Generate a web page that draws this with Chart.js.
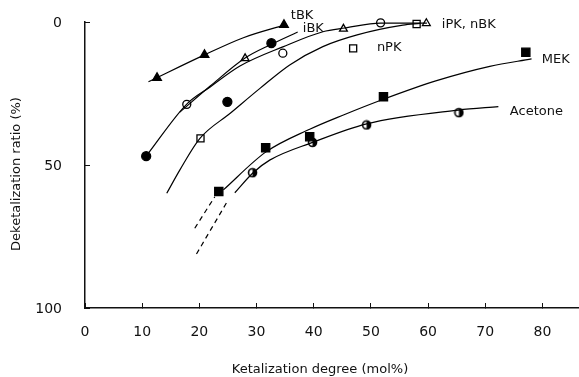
<!DOCTYPE html>
<html>
<head>
<meta charset="utf-8">
<script src="https://cdn.jsdelivr.net/npm/chart.js@4/dist/chart.umd.min.js"></script>
<style>
  body { margin: 0; background: #fff; }
</style>
</head>
<body>
<canvas id="ketal-chart" width="579" height="377"></canvas>
<script>
// measured points: x = ketalization degree (mol%), y = deketalization ratio (%)
const tbkX = [12.6, 20.9, 34.8];
const tbkY = [19.5, 11.5, 1.0];
const ibkX = [10.7, 24.9, 32.6];
const ibkY = [46.9, 27.9, 7.4];
const ipkX = [17.8, 34.6, 51.7];
const ipkY = [28.8, 10.9, 0.3];
const nbkX = [28.0, 45.2, 59.7];
const nbkY = [12.7, 2.4, 0.45];
const npkX = [20.2, 46.9, 58.0];
const npkY = [40.7, 9.2, 0.7];
const mekX = [23.4, 31.6, 39.3, 52.2, 77.1];
const mekY = [59.3, 44.0, 40.1, 26.1, 10.6];
const aceX = [29.3, 39.8, 49.25, 65.4];
const aceY = [52.7, 42.1, 36.0, 31.7];

// hand drawn curves
const tbkCurveX = [11.1, 20.9, 27.7, 35.0];
const tbkCurveY = [20.9, 11.5, 5.5, 1.0];
const ibkCurveX = [16.6, 21.9, 28.0, 32.7, 37.2];
const ibkCurveY = [31.5, 22.4, 12.6, 7.7, 3.5];
const ipkCurveX = [10.7, 17.8, 21.9, 27.1, 34.6, 41.6, 45.5, 51.7, 59.8];
const ipkCurveY = [46.9, 28.7, 22.7, 15.4, 8.7, 3.4, 2.1, 0.4, 0.4];
const npkCurveX = [14.3, 16.6, 20.1, 25.4, 30.6, 35.8, 41.6, 47.6, 55.6, 58.6];
const npkCurveY = [59.9, 51.7, 40.7, 31.9, 23.2, 15.0, 8.6, 4.5, 1.1, 0.5];
const mekCurveX = [24.2, 31.6, 39.3, 45.2, 52.2, 61.5, 70.8, 78.1];
const mekCurveY = [58.7, 45.5, 37.5, 32.5, 27.0, 20.5, 15.5, 12.9];
const mekDashX = [19.2, 22.7];
const mekDashY = [72.1, 61.1];
const aceCurveX = [26.2, 29.4, 32.3, 39.8, 49.25, 65.3, 72.3];
const aceCurveY = [59.7, 52.7, 48.3, 42.1, 35.6, 30.8, 29.6];
const aceDashX = [19.5, 25.05];
const aceDashY = [81.1, 62.2];

const xTicks = [0, 10, 20, 30, 40, 50, 60, 70, 80];
const yTicks = [0, 50, 100];

const curveLabels = [
  { text: "tBK", x: 36.0, y: -2.1 },
  { text: "iBK", x: 38.1, y: 2.45 },
  { text: "nPK", x: 51.05, y: 9.1 },
  { text: "iPK, nBK", x: 62.4, y: 1.05 },
  { text: "MEK", x: 79.9, y: 13.3 },
  { text: "Acetone", x: 74.3, y: 31.5 },
];

function pts(xs, ys) {
  return xs.map((x, i) => ({ x: x, y: ys[i] }));
}

// half filled circle marker for acetone
const halfDot = document.createElement("canvas");
halfDot.width = 11;
halfDot.height = 11;
(function () {
  const c = halfDot.getContext("2d");
  c.fillStyle = "#fff";
  c.beginPath();
  c.arc(5.5, 5.5, 4, 0, Math.PI * 2);
  c.fill();
  c.fillStyle = "#000";
  c.beginPath();
  c.arc(5.5, 5.5, 4, -Math.PI / 2, Math.PI / 2);
  c.fill();
  c.strokeStyle = "#000";
  c.lineWidth = 1.6;
  c.beginPath();
  c.arc(5.5, 5.5, 4, 0, Math.PI * 2);
  c.stroke();
})();

function curve(xs, ys, dashed) {
  return {
    data: pts(xs, ys),
    showLine: true,
    borderColor: "#000",
    borderWidth: 1.2,
    borderDash: dashed ? [5, 4] : [],
    pointRadius: 0,
    cubicInterpolationMode: "monotone",
    clip: 10,
  };
}

function marks(xs, ys, style, filled, radius) {
  return {
    data: pts(xs, ys),
    showLine: false,
    pointStyle: style,
    pointRadius: radius,
    backgroundColor: filled ? "#000" : "#fff",
    borderColor: "#000",
    borderWidth: 1.3,
    clip: 10,
  };
}

const textPlugin = {
  id: "textLabels",
  afterDraw(chart) {
    const { ctx, scales } = chart;
    ctx.save();
    ctx.fillStyle = "#111";
    ctx.textBaseline = "middle";
    ctx.font = '13px "DejaVu Sans"';
    curveLabels.forEach((l) => {
      ctx.fillText(l.text, scales.x.getPixelForValue(l.x), scales.y.getPixelForValue(l.y));
    });
    // y tick labels
    ctx.font = '14px "DejaVu Sans"';
    ctx.textAlign = "right";
    yTicks.forEach((v) => {
      ctx.fillText(String(v), 62, scales.y.getPixelForValue(v) + 1);
    });
    ctx.font = '13px "DejaVu Sans"';
    ctx.textAlign = "center";
    ctx.fillText("Ketalization degree (mol%)", 320, 370);
    ctx.translate(17, 174);
    ctx.rotate(-Math.PI / 2);
    ctx.fillText("Deketalization ratio (%)", 0, 0);
    ctx.restore();
  },
};

const config = {
  type: "scatter",
  data: {
    datasets: [
      curve(tbkCurveX, tbkCurveY),
      curve(ibkCurveX, ibkCurveY),
      curve(ipkCurveX, ipkCurveY),
      curve(npkCurveX, npkCurveY),
      curve(mekCurveX, mekCurveY),
      curve(mekDashX, mekDashY, true),
      curve(aceCurveX, aceCurveY),
      curve(aceDashX, aceDashY, true),
      marks(tbkX, tbkY, "triangle", true, 5),
      marks(ibkX, ibkY, "circle", true, 4.5),
      marks(ipkX, ipkY, "circle", false, 4),
      marks(nbkX, nbkY, "triangle", false, 4.5),
      marks(npkX, npkY, "rect", false, 5),
      marks(mekX, mekY, "rect", true, 5.8),
      marks(aceX, aceY, halfDot, false, 4),
    ],
  },
  options: {
    responsive: false,
    animation: false,
    layout: { autoPadding: false, padding: { top: 22, right: 0, left: 0, bottom: 0 } },
    plugins: {
      legend: { display: false },
      tooltip: { enabled: false },
    },
    scales: {
      x: {
        type: "linear",
        min: 0,
        max: 86.4,
        afterFit(s) {
          s.height = 69;
          s.paddingLeft = 0;
          s.paddingRight = 0;
        },
        afterBuildTicks(s) { s.ticks = xTicks.map((v) => ({ value: v })); },
        ticks: {
          padding: 21,
          color: "#111",
          font: { family: "DejaVu Sans", size: 14 },
        },
        grid: { drawOnChartArea: false, tickLength: -5, color: "#111" },
        border: { color: "#111", width: 1.5 },
      },
      y: {
        type: "linear",
        reverse: true,
        min: 0,
        max: 100,
        afterFit(s) {
          s.width = 85;
          s.paddingTop = 0;
          s.paddingBottom = 0;
        },
        afterBuildTicks(s) { s.ticks = yTicks.map((v) => ({ value: v })); },
        ticks: { display: false },
        grid: { drawOnChartArea: false, tickLength: -5, color: "#111" },
        border: { color: "#111", width: 1.5 },
      },
    },
  },
  plugins: [textPlugin],
};

const ketalChart = new Chart(document.getElementById("ketal-chart"), config);
</script>
</body>
</html>
